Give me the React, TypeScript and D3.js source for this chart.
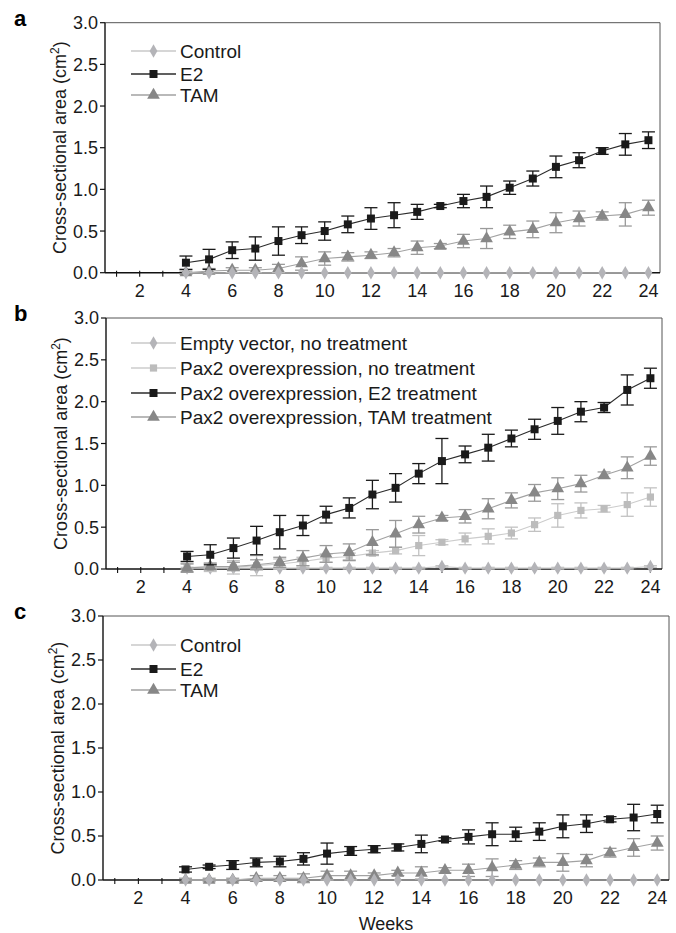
import React from 'react';
import * as d3 from 'd3';

// ---------- data ----------
const weeks = [4, 5, 6, 7, 8, 9, 10, 11, 12, 13, 14, 15, 16, 17, 18, 19, 20, 21, 22, 23, 24];
const weekTicks = [1, 2, 3, 4, 5, 6, 7, 8, 9, 10, 11, 12, 13, 14, 15, 16, 17, 18, 19, 20, 21, 22, 23, 24];
const weekLabels = [2, 4, 6, 8, 10, 12, 14, 16, 18, 20, 22, 24];
const yTicks = [0, 0.5, 1, 1.5, 2, 2.5, 3];
const yTickLabels = ['0.0', '0.5', '1.0', '1.5', '2.0', '2.5', '3.0'];

// panel a
const aControl = [0, 0, 0, 0, 0, 0, 0, 0, 0, 0, 0, 0, 0, 0, 0, 0, 0, 0, 0, 0, 0];
const aControlErr = [0, 0, 0, 0, 0, 0, 0, 0, 0, 0, 0, 0, 0, 0, 0, 0, 0, 0, 0, 0, 0];
const aE2 = [0.12, 0.16, 0.27, 0.29, 0.38, 0.45, 0.5, 0.58, 0.65, 0.69, 0.73, 0.8, 0.86, 0.91, 1.02, 1.13, 1.27, 1.35, 1.46, 1.54, 1.59];
const aE2Err = [0.08, 0.12, 0.1, 0.14, 0.17, 0.1, 0.11, 0.1, 0.13, 0.15, 0.09, 0.02, 0.08, 0.13, 0.08, 0.09, 0.13, 0.09, 0.04, 0.13, 0.1];
const aTAM = [0.0, 0.02, 0.03, 0.03, 0.05, 0.11, 0.17, 0.19, 0.21, 0.24, 0.3, 0.32, 0.38, 0.41, 0.49, 0.52, 0.6, 0.65, 0.68, 0.7, 0.78];
const aTAMErr = [0.02, 0.03, 0.03, 0.03, 0.05, 0.08, 0.08, 0.05, 0.04, 0.05, 0.08, 0.03, 0.08, 0.12, 0.08, 0.1, 0.12, 0.09, 0.05, 0.14, 0.09];

// panel b
const bEmpty = [0.01, 0.01, 0.01, 0.01, 0.01, 0.01, 0.01, 0.01, 0.01, 0.01, 0.01, 0.03, 0.01, 0.01, 0.01, 0.01, 0.01, 0.01, 0.01, 0.01, 0.03];
const bEmptyErr = [0.01, 0.01, 0.01, 0.01, 0.01, 0.01, 0.01, 0.01, 0.01, 0.01, 0.01, 0.01, 0.01, 0.01, 0.01, 0.01, 0.01, 0.01, 0.01, 0.01, 0.01];
const bPax = [0.02, 0.02, 0.02, 0.04, 0.06, 0.09, 0.13, 0.15, 0.19, 0.22, 0.28, 0.32, 0.36, 0.39, 0.43, 0.53, 0.64, 0.7, 0.72, 0.77, 0.86];
const bPaxErr = [0.05, 0.05, 0.08, 0.12, 0.06, 0.05, 0.05, 0.04, 0.03, 0.04, 0.12, 0.03, 0.07, 0.09, 0.07, 0.08, 0.14, 0.09, 0.04, 0.14, 0.11];
const bE2 = [0.15, 0.17, 0.25, 0.34, 0.44, 0.52, 0.65, 0.73, 0.89, 0.97, 1.14, 1.29, 1.37, 1.45, 1.56, 1.67, 1.77, 1.88, 1.93, 2.14, 2.28];
const bE2Err = [0.06, 0.12, 0.12, 0.17, 0.2, 0.12, 0.1, 0.12, 0.17, 0.17, 0.12, 0.27, 0.1, 0.16, 0.1, 0.12, 0.16, 0.12, 0.06, 0.18, 0.12];
const bTAM = [0.01, 0.03, 0.03, 0.05, 0.08, 0.13, 0.18, 0.2, 0.32, 0.42, 0.53, 0.61, 0.63, 0.72, 0.82, 0.91, 0.96, 1.02, 1.12, 1.21, 1.35];
const bTAMErr = [0.05, 0.04, 0.05, 0.06, 0.06, 0.09, 0.1, 0.1, 0.15, 0.16, 0.1, 0.03, 0.08, 0.12, 0.09, 0.1, 0.13, 0.1, 0.04, 0.13, 0.11];

// panel c
const cControl = [0, 0, 0, 0, 0, 0, 0, 0, 0, 0, 0, 0, 0, 0, 0, 0, 0, 0, 0, 0, 0];
const cControlErr = [0, 0, 0, 0, 0, 0, 0, 0, 0, 0, 0, 0, 0, 0, 0, 0, 0, 0, 0, 0, 0];
const cE2 = [0.12, 0.15, 0.17, 0.2, 0.21, 0.24, 0.3, 0.33, 0.35, 0.37, 0.41, 0.46, 0.49, 0.52, 0.52, 0.55, 0.61, 0.64, 0.69, 0.71, 0.75];
const cE2Err = [0.03, 0.02, 0.05, 0.05, 0.06, 0.07, 0.12, 0.05, 0.04, 0.04, 0.1, 0.02, 0.08, 0.13, 0.08, 0.1, 0.13, 0.1, 0.03, 0.15, 0.1];
const cTAM = [0.0, 0.0, 0.0, 0.02, 0.02, 0.02, 0.05, 0.05, 0.05, 0.08, 0.08, 0.11, 0.11, 0.14, 0.17, 0.2, 0.2, 0.22, 0.31, 0.37, 0.42];
const cTAMErr = [0.02, 0.02, 0.02, 0.03, 0.03, 0.05, 0.05, 0.05, 0.03, 0.03, 0.07, 0.03, 0.07, 0.1, 0.05, 0.05, 0.1, 0.07, 0.05, 0.1, 0.08];

// ---------- styles ----------
type Kind = 'control' | 'e2' | 'tam' | 'pax';
const STYLE: Record<Kind, { fill: string; line: string; err: string; shape: d3.SymbolType; size: number }> = {
  control: { fill: '#b4b4b8', line: '#c8c8c8', err: '#c4c4c4', shape: d3.symbolDiamond, size: 52 },
  e2: { fill: '#1a1a1a', line: '#2b2b2b', err: '#1a1a1a', shape: d3.symbolSquare, size: 64 },
  tam: { fill: '#878787', line: '#a2a2a2', err: '#9a9a9a', shape: d3.symbolTriangle, size: 70 },
  pax: { fill: '#bcbcbc', line: '#cccccc', err: '#c2c2c2', shape: d3.symbolSquare, size: 52 },
};

const FONT = "'Liberation Sans', Arial, Helvetica, sans-serif";

interface Series { name: string; kind: Kind; mean: number[]; err: number[] }
interface PanelProps {
  label: string; left: number; right: number; top: number; bottom: number;
  series: Series[]; legendRows: number[]; drawOrder: number[]; weeksLabel?: boolean;
}

function Panel({ label, left, right, top, bottom, series, legendRows, drawOrder, weeksLabel }: PanelProps) {
  const x = d3.scaleLinear().domain([0.5, 24.5]).range([left, right]);
  const y = d3.scaleLinear().domain([0, 3]).range([bottom, top]);
  const line = d3.line<number>().x((_, i) => x(weeks[i])).y((d) => y(d));
  const cap = 6.5;
  return (
    <g>
      <text x={14} y={top + 3} fontFamily={FONT} fontWeight="bold" fontSize={22}>{label}</text>
      {/* frame */}
      <line x1={left} x2={right} y1={top} y2={top} stroke="#555" strokeWidth={1} />
      <line x1={right} x2={right} y1={top} y2={bottom} stroke="#555" strokeWidth={1} />
      <line x1={left} x2={left} y1={top} y2={bottom} stroke="#111" strokeWidth={1.4} />
      <line x1={left} x2={right} y1={bottom} y2={bottom} stroke="#111" strokeWidth={1.4} />
      {yTicks.map((t, i) => (
        <g key={'y' + i}>
          <line x1={left - 5} x2={left} y1={y(t)} y2={y(t)} stroke="#111" strokeWidth={1.2} />
          <text x={left - 7} y={y(t)} dy="0.36em" textAnchor="end" fontFamily={FONT} fontSize={18} fill="#1a1a1a">{yTickLabels[i]}</text>
        </g>
      ))}
      {weekTicks.map((w) => (
        <line key={'xt' + w} x1={x(w)} x2={x(w)} y1={bottom - 2} y2={bottom + 4} stroke="#111" strokeWidth={1.1} />
      ))}
      {weekLabels.map((w) => (
        <text key={'xl' + w} x={x(w)} y={bottom + 24} textAnchor="middle" fontFamily={FONT} fontSize={18} fill="#1a1a1a">{w}</text>
      ))}
      <text transform={`translate(${left - 39},${(top + bottom) / 2}) rotate(-90)`} textAnchor="middle" fontFamily={FONT} fontSize={18} fill="#1a1a1a">
        Cross-sectional area (cm<tspan dy="-7" fontSize={12}>2</tspan><tspan dy="7">)</tspan>
      </text>
      {weeksLabel && (
        <text x={(left + right) / 2} y={bottom + 50} textAnchor="middle" fontFamily={FONT} fontSize={18} fill="#1a1a1a">Weeks</text>
      )}
      {/* data */}
      {drawOrder.map((si) => {
        const s = series[si];
        const st = STYLE[s.kind];
        const sym = d3.symbol().type(st.shape).size(st.size)() as string;
        return (
          <g key={'s' + si}>
            <path d={line(s.mean) as string} fill="none" stroke={st.line} strokeWidth={1.1} />
            {s.mean.map((m, i) => {
              const e = s.err[i];
              if (e <= 0) return null;
              const cx = x(weeks[i]);
              return (
                <g key={'e' + i} stroke={st.err} strokeWidth={1.3}>
                  <line x1={cx} x2={cx} y1={y(m + e)} y2={y(Math.max(m - e, -0.2))} />
                  <line x1={cx - cap} x2={cx + cap} y1={y(m + e)} y2={y(m + e)} />
                  <line x1={cx - cap} x2={cx + cap} y1={y(m - e)} y2={y(m - e)} />
                </g>
              );
            })}
            {s.mean.map((m, i) => (
              <path key={'m' + i} d={sym} transform={`translate(${x(weeks[i])},${y(m)})`} fill={st.fill} />
            ))}
          </g>
        );
      })}
      {/* legend */}
      {series.map((s, i) => {
        const st = STYLE[s.kind];
        const ly = legendRows[i];
        const sym = d3.symbol().type(st.shape).size(st.size)() as string;
        return (
          <g key={'lg' + i}>
            <line x1={131} x2={176} y1={ly} y2={ly} stroke={st.line} strokeWidth={1.3} />
            <path d={sym} transform={`translate(153.5,${ly})`} fill={st.fill} />
            <text x={180} y={ly} dy="0.36em" fontFamily={FONT} fontSize={19} fill="#1a1a1a">{s.name}</text>
          </g>
        );
      })}
    </g>
  );
}

export default function App() {
  const aSeries: Series[] = [
    { name: 'Control', kind: 'control', mean: aControl, err: aControlErr },
    { name: 'E2', kind: 'e2', mean: aE2, err: aE2Err },
    { name: 'TAM', kind: 'tam', mean: aTAM, err: aTAMErr },
  ];
  const bSeries: Series[] = [
    { name: 'Empty vector, no treatment', kind: 'control', mean: bEmpty, err: bEmptyErr },
    { name: 'Pax2 overexpression, no treatment', kind: 'pax', mean: bPax, err: bPaxErr },
    { name: 'Pax2 overexpression, E2 treatment', kind: 'e2', mean: bE2, err: bE2Err },
    { name: 'Pax2 overexpression, TAM treatment', kind: 'tam', mean: bTAM, err: bTAMErr },
  ];
  const cSeries: Series[] = [
    { name: 'Control', kind: 'control', mean: cControl, err: cControlErr },
    { name: 'E2', kind: 'e2', mean: cE2, err: cE2Err },
    { name: 'TAM', kind: 'tam', mean: cTAM, err: cTAMErr },
  ];
  return (
    <svg width={676} height={933} viewBox="0 0 676 933" style={{ position: 'absolute', left: 0, top: 0, background: '#fff' }}>
      <rect width={676} height={933} fill="#fff" />
      <Panel label="a" left={105} right={660} top={22.7} bottom={272.7} series={aSeries} legendRows={[51, 74, 95]} drawOrder={[2, 1, 0]} />
      <Panel label="b" left={106} right={662} top={318} bottom={569} series={bSeries} legendRows={[343, 368, 393, 417]} drawOrder={[0, 1, 3, 2]} />
      <Panel label="c" left={103} right={669} top={616} bottom={880} series={cSeries} legendRows={[645, 669, 690]} drawOrder={[2, 1, 0]} weeksLabel />
    </svg>
  );
}
